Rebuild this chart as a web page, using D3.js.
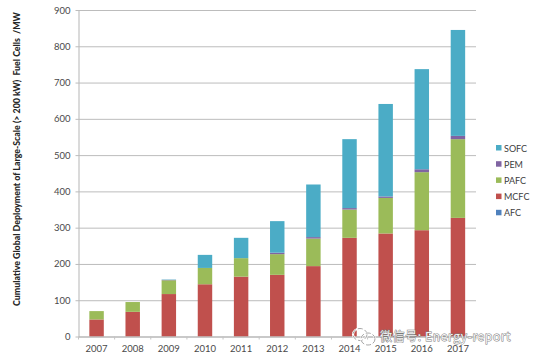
<!DOCTYPE html>
<html>
<head>
<meta charset="utf-8">
<script src="https://cdn.jsdelivr.net/npm/d3@7"></script>
<style>
  html, body { margin: 0; padding: 0; background: #fff; }
  text { font-family: Lato, "Open Sans", sans-serif; white-space: pre; }
</style>
</head>
<body>
<div id="chart"></div>
<script>
var years = ["2007", "2008", "2009", "2010", "2011", "2012", "2013", "2014", "2015", "2016", "2017"];
var afc  = [0, 0, 0, 0, 0, 0, 0, 0, 0, 0, 0];
var mcfc = [47, 68, 117, 144, 165, 170, 194, 272, 284, 293, 327];
var pafc = [23, 27, 38, 45, 51, 57, 76, 78, 98, 160, 217];
var pem  = [0, 0, 1, 0, 0, 4, 4, 4, 4, 8, 9];
var sofc = [0, 0, 1, 36, 56, 87, 145, 190, 255, 276, 292];
var seriesNames = ["AFC", "MCFC", "PAFC", "PEM", "SOFC"];
var yTicks = [0, 100, 200, 300, 400, 500, 600, 700, 800, 900];
var yTitle = "Cumulative Global Deployment of Large-Scale (> 200 kW)  Fuel Cells  /MW";
var watermark = "微信号: Energy-report";

var width = 542, height = 362;
var margin = { top: 10, right: 66, bottom: 25.5, left: 78.5 };
var mwidth = width - margin.left - margin.right;
var mheight = height - margin.top - margin.bottom;

var colors = d3.scaleOrdinal()
    .domain(seriesNames)
    .range(["#4f81bd", "#c0504d", "#9bbb59", "#8064a2", "#4bacc6"]);

var rows = years.map(function(y, i) {
    return { year: y, AFC: afc[i], MCFC: mcfc[i], PAFC: pafc[i], PEM: pem[i], SOFC: sofc[i] };
});
var stacked = d3.stack().keys(seriesNames)(rows);

var xScale = d3.scaleBand().domain(years).range([0, mwidth]).paddingInner(0.6).paddingOuter(0.3);
var xTickScale = d3.scaleLinear().domain([0, years.length]).range([0, mwidth]);
var yScale = d3.scaleLinear().domain([0, 900]).range([mheight, 0]);

var svg = d3.select("#chart").append("svg")
    .attr("width", width)
    .attr("height", height)
    .style("display", "block");

var g = svg.append("g")
    .attr("transform", "translate(" + margin.left + "," + margin.top + ")");

// Gridlines and y axis
var yAxis = d3.axisLeft(yScale)
    .tickValues(yTicks)
    .tickSizeInner(-mwidth)
    .tickSizeOuter(0)
    .tickPadding(8)
    .tickFormat(d3.format("d"));

var yG = g.append("g").call(yAxis);
yG.select(".domain").attr("stroke", "#b5b5b5");
yG.selectAll(".tick line").attr("stroke", "#bcbcbc").attr("x1", -3);
yG.selectAll(".tick text").attr("fill", "#4a4a4a").style("font-size", "9.5px");

// Bars
g.selectAll(".series")
    .data(stacked)
    .enter().append("g")
    .attr("class", "series")
    .attr("fill", function(d) { return colors(d.key); })
    .selectAll("rect")
    .data(function(d) { return d; })
    .enter().append("rect")
    .attr("x", function(d) { return xScale(d.data.year); })
    .attr("width", xScale.bandwidth())
    .attr("y", function(d) { return yScale(d[1]); })
    .attr("height", function(d) { return yScale(d[0]) - yScale(d[1]); });

// X axis
var xAxis = d3.axisBottom(xScale).tickSize(0).tickPadding(9);
var xG = g.append("g").attr("transform", "translate(0," + mheight + ")").call(xAxis);
xG.select(".domain").attr("stroke", "#b5b5b5");
xG.selectAll(".tick text").attr("fill", "#4a4a4a").style("font-size", "9.5px");
xG.selectAll(".sep")
    .data(d3.range(0, years.length + 1))
    .enter().append("line")
    .attr("class", "sep")
    .attr("x1", function(d) { return xTickScale(d); })
    .attr("x2", function(d) { return xTickScale(d); })
    .attr("y1", 0)
    .attr("y2", 3)
    .attr("stroke", "#c4c4c4");

// Y axis label
svg.append("text")
    .attr("transform", "rotate(-90)")
    .attr("x", -159)
    .attr("y", 20)
    .style("text-anchor", "middle")
    .style("font-size", "8.8px")
    .style("font-weight", "900")
    .attr("fill", "#262626")
    .text(yTitle);

// Legend, top entry is the top of the stack
var legend = svg.selectAll(".legend")
    .data(seriesNames.slice().reverse())
    .enter().append("g")
    .attr("class", "legend")
    .attr("transform", function(d, i) { return "translate(496," + (144 + i * 16.2) + ")"; });
legend.append("rect")
    .attr("width", 5.5)
    .attr("height", 5.5)
    .attr("y", 1)
    .attr("fill", function(d) { return colors(d); });
legend.append("text")
    .attr("x", 8)
    .attr("y", 7.5)
    .attr("fill", "#404040")
    .style("font-size", "9px")
    .text(function(d) { return d; });

// Watermark
var wm = svg.append("g").attr("transform", "translate(360,334.5)");
[[0, 0, 7, 6], [8, 4.5, 7, 6]].forEach(function(b) {
    wm.append("ellipse").attr("cx", b[0]).attr("cy", b[1]).attr("rx", b[2]).attr("ry", b[3])
        .attr("fill", "none").attr("stroke", "#fff").attr("stroke-width", 2.2);
    wm.append("ellipse").attr("cx", b[0]).attr("cy", b[1]).attr("rx", b[2]).attr("ry", b[3])
        .attr("fill", "none").attr("stroke", "#808080").attr("stroke-width", 0.7).attr("stroke-dasharray", "5 2");
});
svg.append("text")
    .attr("x", 380)
    .attr("y", 341)
    .style("font-family", "'Noto Sans CJK SC', sans-serif")
    .style("font-size", "12px")
    .style("letter-spacing", "0.62px")
    .style("paint-order", "stroke")
    .attr("fill", "#f6f6f6")
    .attr("stroke", "#7a7a7a")
    .attr("stroke-width", 0.9)
    .text(watermark);
</script>
</body>
</html>
